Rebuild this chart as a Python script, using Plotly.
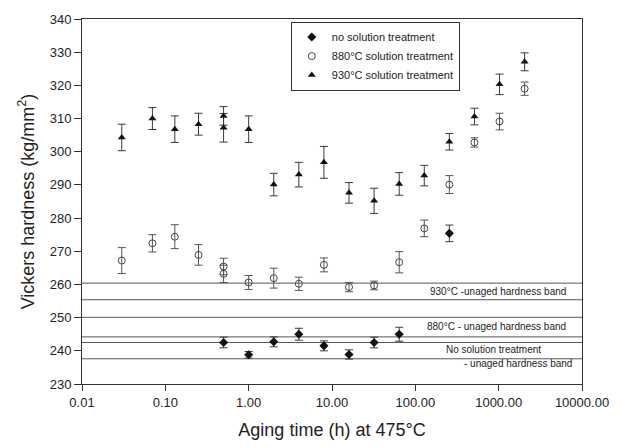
import plotly.graph_objects as go

# ---- data ----
x_930 = [0.03, 0.07, 0.13, 0.25, 0.5, 0.5, 1, 2, 4, 8, 16, 32, 64, 128, 256, 512, 1024, 2048]
y_930 = [304.3, 310.0, 306.8, 308.3, 310.8, 307.2, 306.8, 290.1, 293.1, 296.8, 287.6, 285.2,
         290.3, 292.8, 303.0, 310.6, 320.3, 327.1]
e_930 = [4.0, 3.3, 4.0, 3.3, 2.8, 4.3, 4.0, 3.4, 3.7, 4.8, 3.1, 3.8, 3.4, 3.1, 2.5, 2.5, 3.1, 2.7]

x_880 = [0.03, 0.07, 0.13, 0.25, 0.5, 0.5, 1, 2, 4, 8, 16, 32, 64, 128, 256, 512, 1024, 2048]
y_880 = [267.2, 272.4, 274.4, 268.9, 265.4, 263.2, 260.6, 261.9, 260.2, 265.9, 259.2, 259.7,
         266.7, 276.9, 290.1, 302.8, 309.1, 319.0]
e_880 = [3.9, 2.6, 3.6, 3.1, 2.5, 2.6, 2.1, 3.0, 2.0, 2.1, 1.4, 1.3, 3.2, 2.5, 2.7, 1.4, 2.5, 2.0]

x_none = [0.5, 1, 2, 4, 8, 16, 32, 64, 256]
y_none = [242.5, 238.8, 242.7, 245.0, 241.5, 238.9, 242.5, 245.0, 275.4]
e_none = [1.6, 1.0, 1.5, 1.8, 1.5, 1.4, 1.6, 2.1, 2.5]

band_lines = [260.4, 255.4, 250.1, 244.2, 242.5, 237.6]
band_labels = ["930°C -unaged hardness band", "880°C - unaged hardness band",
               "No solution treatment", "- unaged hardness band"]
band_label_y = [257.8, 247.3, 240.3, 236.1]

x_tickvals = [0.01, 0.1, 1, 10, 100, 1000, 10000]
x_ticktext = ["0.01", "0.10", "1.00", "10.00", "100.00", "1000.00", "10000.00"]
y_tickvals = list(range(230, 341, 10))

FONT = "Liberation Sans, Arial, sans-serif"
INK = "#222222"
ERR = "#3a3a3a"

fig = go.Figure()

fig.add_trace(go.Scatter(
    x=x_none, y=y_none, mode="markers", name="no solution treatment",
    marker=dict(symbol="diamond", size=7, color="#111111"),
    error_y=dict(type="data", array=e_none, color=ERR, thickness=1, width=4),
))
fig.add_trace(go.Scatter(
    x=x_880, y=y_880, mode="markers", name="880°C solution treatment",
    marker=dict(symbol="circle-open", size=7, color="#444444", line=dict(width=1)),
    error_y=dict(type="data", array=e_880, color="#555555", thickness=1, width=4),
))
fig.add_trace(go.Scatter(
    x=x_930, y=y_930, mode="markers", name="930°C solution treatment",
    marker=dict(symbol="triangle-up", size=7, color="#111111"),
    error_y=dict(type="data", array=e_930, color=ERR, thickness=1, width=4),
))

for yv in band_lines:
    fig.add_shape(type="line", xref="paper", x0=0, x1=1, yref="y", y0=yv, y1=yv,
                  line=dict(color="#555555", width=1), layer="below")

label_x = [0.9725, 0.9725, 0.7235, 0.7608]
label_anchor = ["right", "right", "left", "left"]
for txt, yv, xv, an in zip(band_labels, band_label_y, label_x, label_anchor):
    fig.add_annotation(text=txt, xref="paper", x=xv, xanchor=an, yref="y", y=yv,
                       showarrow=False, font=dict(family=FONT, size=10, color=INK))

fig.update_layout(
    width=621, height=448,
    margin=dict(l=82, r=29, t=19, b=61),
    paper_bgcolor="white", plot_bgcolor="white",
    font=dict(family=FONT, color=INK),
    showlegend=True,
    legend=dict(x=0.4176, y=0.993, xanchor="left", yanchor="top",
                bgcolor="white", bordercolor="#333333", borderwidth=1,
                font=dict(family=FONT, size=11, color=INK),
                tracegroupgap=0, itemwidth=30),
)

fig.update_xaxes(
    type="log", range=[-2, 4], tickvals=x_tickvals, ticktext=x_ticktext,
    ticks="outside", ticklen=6, tickcolor="#333333", tickwidth=1,
    showline=True, linecolor="#333333", linewidth=1, mirror=True,
    showgrid=False, zeroline=False,
    tickfont=dict(family=FONT, size=13, color=INK),
    title=dict(text="Aging time (h) at 475°C", font=dict(family=FONT, size=18, color=INK),
               standoff=14),
)
fig.update_yaxes(
    range=[230, 340], tickvals=y_tickvals,
    ticks="outside", ticklen=7, tickcolor="#333333", tickwidth=1,
    showline=True, linecolor="#333333", linewidth=1, mirror=True,
    showgrid=False, zeroline=False,
    tickfont=dict(family=FONT, size=13, color=INK),
    title=dict(text="Vickers hardness (kg/mm<sup>2</sup>)",
               font=dict(family=FONT, size=18, color=INK), standoff=10),
)

fig.write_html("out.html")
